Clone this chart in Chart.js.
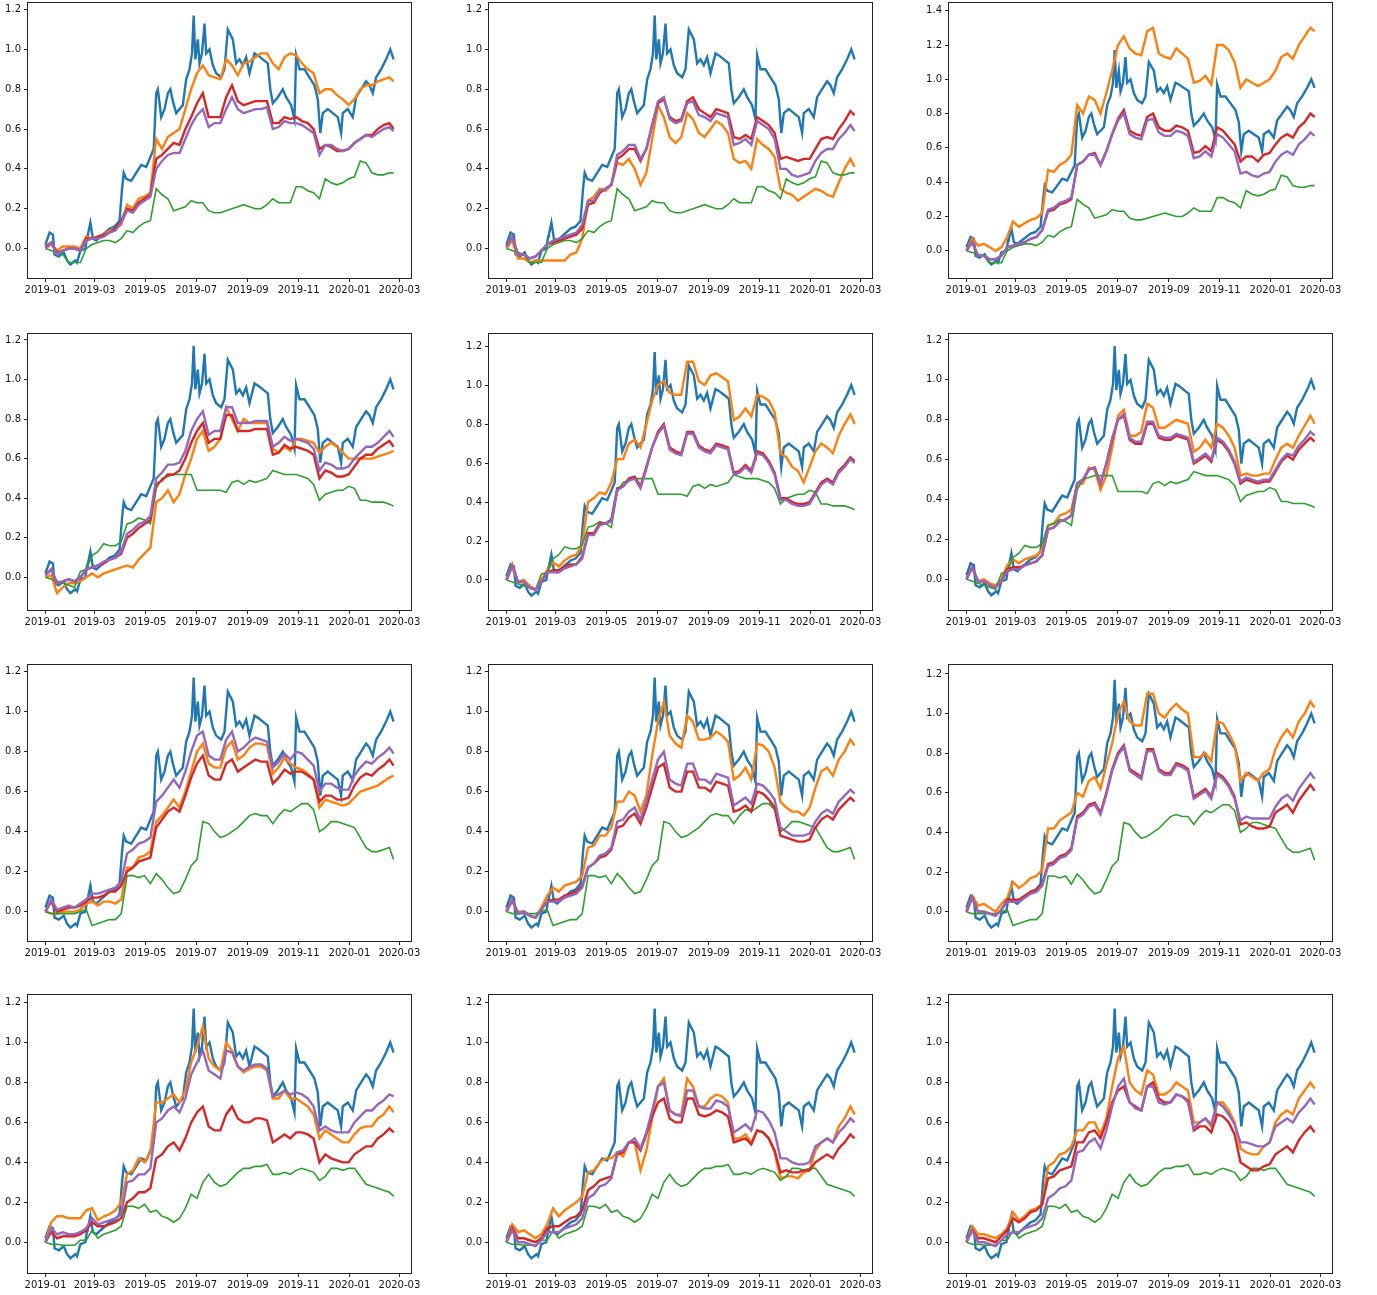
<!DOCTYPE html>
<html><head><meta charset="utf-8">
<script src="https://cdn.jsdelivr.net/npm/chart.js@4.4.1/dist/chart.umd.min.js"></script>
<style>html,body{margin:0;padding:0;background:#fff;width:1377px;height:1295px;overflow:hidden;position:relative}canvas{position:absolute}</style>
</head><body>
<script>
// days since 2019-01-01
const days=[0,7,14,21,28,35,42,49,56,63,70,77,84,91,98,105,112,119,126,133,140,147,154,161,168,175,182,189,196,203,210,217,224,231,238,245,252,259,266,273,280,287,294,301,308,315,322,329,336,343,350,357,364,371,378,385,392,399,406,413,418];
const xTickValues=[0,59,120,181,243,304,365,425];
const xTickLabels=['2019-01','2019-03','2019-05','2019-07','2019-09','2019-11','2020-01','2020-03'];

// blue series (same in every panel), read at its own dates
const blueDays=[0,5,9,11,16,22,26,30,36,38,42,48,50,51,54,57,61,69,77,83,89,92,94,97,103,109,115,121,127,130,133,135,139,143,147,150,153,157,161,165,169,173,176,178,180,183,185,188,191,193,197,201,205,211,215,219,225,229,233,237,241,245,251,255,261,267,270,273,279,285,289,295,299,301,305,311,317,323,327,330,333,339,345,351,355,357,363,369,373,379,385,389,393,397,403,409,414,418];
const blue=[0.02,0.08,0.07,-0.03,-0.04,-0.02,-0.06,-0.08,-0.06,-0.07,-0.01,0.00,0.06,0.07,0.13,0.05,0.04,0.07,0.10,0.11,0.14,0.30,0.38,0.35,0.34,0.38,0.42,0.41,0.47,0.50,0.78,0.80,0.66,0.70,0.78,0.80,0.74,0.68,0.70,0.72,0.85,0.90,0.98,1.17,0.95,1.05,0.93,0.98,1.13,0.98,1.00,0.92,0.88,0.86,0.90,1.10,1.05,0.93,0.95,0.92,0.96,0.88,0.98,0.97,0.95,0.93,0.80,0.73,0.76,0.80,0.76,0.72,0.65,0.97,0.90,0.90,0.86,0.82,0.75,0.58,0.68,0.70,0.68,0.66,0.58,0.68,0.70,0.66,0.76,0.80,0.84,0.82,0.78,0.86,0.90,0.95,1.00,0.95];

const green1=[0.00,-0.01,-0.02,-0.03,-0.07,-0.07,-0.07,0.00,0.02,0.03,
 0.04,0.04,0.03,0.05,0.09,0.08,0.11,0.13,0.14,0.30,
 0.27,0.25,0.19,0.20,0.21,0.24,0.23,0.23,0.19,0.18,
 0.18,0.19,0.20,0.21,0.22,0.21,0.20,0.20,0.22,0.25,
 0.23,0.23,0.23,0.31,0.31,0.29,0.28,0.25,0.35,0.33,
 0.32,0.33,0.35,0.36,0.44,0.43,0.38,0.37,0.37,0.38,
 0.38];
const green2=[0.00,-0.01,-0.02,-0.03,-0.04,-0.05,0.03,0.04,0.11,0.13,
 0.17,0.16,0.16,0.18,0.27,0.28,0.30,0.29,0.27,0.45,
 0.50,0.51,0.52,0.52,0.52,0.52,0.44,0.44,0.44,0.44,
 0.44,0.43,0.48,0.49,0.47,0.49,0.48,0.49,0.50,0.54,
 0.53,0.52,0.52,0.52,0.51,0.50,0.47,0.39,0.42,0.43,
 0.44,0.44,0.46,0.45,0.39,0.39,0.38,0.38,0.38,0.37,
 0.36];
const green3=[0.00,-0.01,-0.01,-0.01,-0.01,-0.01,0.00,0.01,-0.07,-0.06,
 -0.05,-0.04,-0.04,-0.01,0.18,0.18,0.17,0.18,0.14,0.19,
 0.16,0.12,0.09,0.10,0.16,0.23,0.26,0.45,0.44,0.40,
 0.37,0.38,0.40,0.42,0.45,0.48,0.49,0.48,0.48,0.44,
 0.48,0.51,0.50,0.52,0.54,0.54,0.51,0.40,0.42,0.45,
 0.45,0.44,0.43,0.42,0.37,0.32,0.30,0.30,0.31,0.32,
 0.26];
const green4=[0.00,-0.01,-0.01,-0.015,-0.015,-0.015,0.01,0.01,0.06,0.02,
 0.04,0.05,0.06,0.08,0.18,0.18,0.17,0.19,0.15,0.16,
 0.13,0.12,0.10,0.12,0.17,0.24,0.22,0.30,0.34,0.30,
 0.28,0.29,0.32,0.35,0.37,0.37,0.38,0.38,0.39,0.34,
 0.34,0.35,0.34,0.36,0.37,0.36,0.35,0.31,0.33,0.37,
 0.37,0.36,0.37,0.37,0.33,0.29,0.28,0.27,0.26,0.25,
 0.23];

const orange1=[0.00,0.02,-0.01,0.01,0.01,0.01,0.00,0.06,0.05,0.06,
 0.07,0.09,0.10,0.12,0.22,0.20,0.25,0.26,0.28,0.55,
 0.50,0.56,0.58,0.60,0.70,0.80,0.88,0.92,0.87,0.86,
 0.85,0.95,0.92,0.87,0.93,0.94,0.96,0.98,0.98,0.93,
 0.90,0.96,0.98,0.97,0.93,0.90,0.88,0.78,0.80,0.80,
 0.77,0.75,0.72,0.75,0.80,0.82,0.82,0.84,0.85,0.86,
 0.84];
const red1=[0.01,0.03,-0.02,-0.01,0.00,0.00,-0.01,0.05,0.05,0.06,
 0.07,0.08,0.10,0.14,0.20,0.19,0.23,0.25,0.27,0.45,
 0.47,0.50,0.53,0.52,0.60,0.66,0.73,0.78,0.66,0.66,
 0.66,0.76,0.82,0.74,0.72,0.73,0.74,0.74,0.74,0.63,
 0.63,0.66,0.65,0.66,0.64,0.63,0.60,0.50,0.52,0.51,
 0.49,0.49,0.50,0.53,0.55,0.57,0.57,0.60,0.62,0.63,
 0.60];
const purple1=[0.00,0.03,-0.03,-0.01,0.00,0.00,-0.01,0.04,0.05,0.05,
 0.06,0.08,0.09,0.13,0.19,0.18,0.22,0.24,0.26,0.40,
 0.44,0.47,0.48,0.48,0.55,0.62,0.67,0.70,0.61,0.63,
 0.63,0.70,0.76,0.70,0.68,0.69,0.70,0.70,0.71,0.60,
 0.61,0.64,0.63,0.63,0.62,0.60,0.58,0.47,0.52,0.52,
 0.50,0.49,0.50,0.53,0.55,0.57,0.56,0.58,0.60,0.61,
 0.59];

const orange2=[0.00,0.04,-0.05,-0.05,-0.07,-0.06,-0.06,-0.06,-0.06,-0.06,
 -0.06,-0.03,-0.02,0.05,0.24,0.26,0.30,0.29,0.32,0.43,
 0.42,0.45,0.40,0.32,0.38,0.55,0.72,0.66,0.56,0.53,
 0.56,0.68,0.65,0.58,0.56,0.60,0.64,0.62,0.58,0.45,
 0.43,0.44,0.40,0.55,0.52,0.50,0.46,0.30,0.28,0.27,
 0.24,0.26,0.28,0.30,0.29,0.27,0.26,0.33,0.40,0.45,
 0.41];
const red2=[0.01,0.06,-0.03,-0.03,-0.05,-0.04,-0.01,0.02,0.03,0.04,
 0.05,0.06,0.07,0.10,0.22,0.23,0.28,0.30,0.32,0.45,
 0.47,0.50,0.50,0.44,0.50,0.62,0.73,0.75,0.66,0.64,
 0.65,0.74,0.76,0.70,0.68,0.66,0.70,0.69,0.68,0.56,
 0.55,0.57,0.55,0.66,0.64,0.62,0.58,0.45,0.46,0.45,
 0.44,0.45,0.45,0.50,0.55,0.56,0.55,0.60,0.64,0.69,
 0.67];
const purple2=[0.01,0.06,-0.03,-0.03,-0.05,-0.04,-0.01,0.02,0.04,0.05,
 0.06,0.07,0.08,0.12,0.24,0.24,0.29,0.30,0.32,0.47,
 0.49,0.52,0.52,0.45,0.50,0.62,0.74,0.76,0.65,0.63,
 0.64,0.73,0.74,0.67,0.66,0.64,0.68,0.67,0.66,0.52,
 0.53,0.55,0.52,0.64,0.62,0.60,0.55,0.40,0.40,0.37,
 0.36,0.37,0.38,0.44,0.48,0.50,0.50,0.55,0.58,0.62,
 0.59];

const orange3=[0.00,0.07,0.03,0.04,0.02,0.00,0.02,0.08,0.17,0.14,
 0.16,0.18,0.19,0.22,0.47,0.46,0.50,0.52,0.56,0.85,
 0.80,0.90,0.88,0.80,0.92,1.05,1.20,1.25,1.18,1.15,
 1.14,1.28,1.30,1.15,1.13,1.12,1.18,1.15,1.12,0.98,
 0.99,1.02,0.97,1.20,1.20,1.17,1.10,0.95,1.00,0.98,
 0.96,0.98,1.00,1.05,1.13,1.15,1.12,1.20,1.25,1.30,
 1.28];
const red3=[0.00,0.05,-0.03,-0.03,-0.05,-0.05,-0.03,0.02,0.03,0.04,
 0.05,0.07,0.08,0.12,0.23,0.24,0.27,0.28,0.30,0.50,
 0.52,0.56,0.57,0.50,0.58,0.68,0.77,0.82,0.70,0.68,
 0.67,0.78,0.80,0.72,0.70,0.70,0.73,0.72,0.70,0.57,
 0.58,0.61,0.58,0.72,0.70,0.66,0.62,0.52,0.55,0.55,
 0.52,0.56,0.57,0.62,0.66,0.68,0.66,0.72,0.75,0.80,
 0.78];
const purple3=[0.00,0.05,-0.03,-0.03,-0.05,-0.05,-0.03,0.02,0.03,0.04,
 0.05,0.07,0.08,0.12,0.24,0.25,0.28,0.29,0.31,0.50,
 0.52,0.56,0.56,0.50,0.58,0.68,0.76,0.80,0.68,0.66,
 0.65,0.76,0.77,0.69,0.67,0.67,0.70,0.69,0.67,0.54,
 0.55,0.58,0.55,0.68,0.66,0.62,0.58,0.45,0.46,0.44,
 0.43,0.45,0.46,0.52,0.56,0.58,0.56,0.62,0.65,0.69,
 0.67];

const orange4=[0.00,0.01,-0.08,-0.05,-0.03,-0.03,-0.02,0.00,0.02,0.00,
 0.02,0.03,0.04,0.05,0.06,0.05,0.09,0.12,0.15,0.38,
 0.40,0.44,0.38,0.42,0.52,0.60,0.70,0.74,0.64,0.66,
 0.70,0.86,0.80,0.74,0.80,0.78,0.78,0.78,0.78,0.65,
 0.63,0.66,0.64,0.70,0.70,0.69,0.68,0.63,0.66,0.68,
 0.66,0.63,0.60,0.60,0.60,0.60,0.60,0.61,0.62,0.63,
 0.64];
const red4=[0.01,0.04,-0.03,-0.02,-0.01,-0.02,0.00,0.04,0.05,0.06,
 0.07,0.09,0.10,0.12,0.20,0.22,0.25,0.27,0.29,0.47,
 0.49,0.52,0.52,0.54,0.60,0.68,0.74,0.78,0.68,0.70,
 0.70,0.82,0.82,0.74,0.74,0.74,0.75,0.75,0.75,0.62,
 0.63,0.67,0.65,0.66,0.65,0.64,0.62,0.50,0.54,0.53,
 0.51,0.51,0.52,0.56,0.60,0.62,0.62,0.65,0.67,0.69,
 0.66];
const purple4=[0.01,0.04,-0.03,-0.02,-0.01,-0.02,0.00,0.04,0.05,0.06,
 0.08,0.09,0.10,0.13,0.22,0.24,0.27,0.28,0.31,0.50,
 0.53,0.57,0.57,0.58,0.64,0.74,0.80,0.84,0.72,0.74,
 0.74,0.86,0.86,0.78,0.78,0.78,0.79,0.79,0.79,0.66,
 0.68,0.71,0.69,0.70,0.69,0.68,0.65,0.54,0.58,0.57,
 0.55,0.55,0.56,0.60,0.63,0.66,0.66,0.68,0.71,0.74,
 0.71];

const orange5=[0.00,0.08,-0.01,0.00,-0.03,-0.05,0.00,0.05,0.09,0.07,
 0.10,0.12,0.13,0.18,0.40,0.42,0.45,0.44,0.50,0.62,
 0.62,0.70,0.72,0.68,0.80,0.92,1.00,1.02,0.96,0.95,
 0.95,1.12,1.12,1.02,1.00,1.05,1.06,1.04,1.02,0.82,
 0.84,0.88,0.84,0.95,0.94,0.92,0.86,0.65,0.63,0.58,
 0.56,0.50,0.58,0.66,0.70,0.68,0.65,0.74,0.80,0.85,
 0.80];
const red5=[0.00,0.07,-0.01,-0.01,-0.04,-0.05,-0.01,0.04,0.05,0.05,
 0.07,0.08,0.08,0.12,0.24,0.24,0.29,0.29,0.31,0.47,
 0.48,0.52,0.53,0.48,0.58,0.68,0.76,0.80,0.68,0.66,
 0.65,0.76,0.76,0.69,0.67,0.66,0.70,0.69,0.68,0.55,
 0.56,0.59,0.56,0.66,0.65,0.61,0.55,0.42,0.42,0.40,
 0.39,0.39,0.40,0.45,0.50,0.52,0.50,0.56,0.59,0.63,
 0.61];
const purple5=[0.00,0.07,-0.01,-0.01,-0.04,-0.05,-0.01,0.04,0.04,0.04,
 0.06,0.07,0.08,0.11,0.23,0.23,0.28,0.29,0.30,0.46,
 0.48,0.51,0.52,0.47,0.57,0.68,0.75,0.79,0.67,0.65,
 0.64,0.75,0.75,0.68,0.66,0.65,0.69,0.68,0.67,0.54,
 0.55,0.58,0.55,0.65,0.64,0.60,0.54,0.41,0.41,0.39,
 0.38,0.38,0.39,0.44,0.49,0.51,0.49,0.55,0.58,0.62,
 0.60];

const orange6=[0.00,0.06,-0.01,0.00,-0.02,-0.03,0.00,0.07,0.10,0.08,
 0.10,0.11,0.12,0.15,0.27,0.28,0.32,0.33,0.35,0.48,
 0.48,0.56,0.55,0.45,0.52,0.66,0.82,0.85,0.72,0.72,
 0.74,0.88,0.86,0.76,0.76,0.78,0.80,0.79,0.78,0.64,
 0.66,0.70,0.66,0.78,0.76,0.72,0.66,0.52,0.53,0.52,
 0.52,0.53,0.53,0.60,0.66,0.68,0.66,0.72,0.77,0.82,
 0.78];
const red6=[0.00,0.06,-0.01,-0.01,-0.03,-0.04,-0.01,0.05,0.06,0.06,
 0.07,0.08,0.09,0.12,0.25,0.26,0.29,0.30,0.32,0.48,
 0.50,0.55,0.56,0.48,0.58,0.70,0.80,0.82,0.70,0.68,
 0.68,0.78,0.78,0.71,0.70,0.70,0.72,0.71,0.70,0.58,
 0.60,0.62,0.59,0.70,0.68,0.64,0.58,0.48,0.50,0.49,
 0.48,0.49,0.49,0.54,0.59,0.62,0.60,0.65,0.68,0.71,
 0.69];
const purple6=[0.00,0.06,-0.01,-0.01,-0.03,-0.04,-0.01,0.04,0.05,0.05,
 0.07,0.08,0.09,0.12,0.25,0.26,0.29,0.30,0.32,0.48,
 0.50,0.55,0.56,0.48,0.58,0.71,0.80,0.83,0.71,0.69,
 0.69,0.79,0.79,0.72,0.71,0.71,0.73,0.72,0.71,0.59,
 0.61,0.63,0.60,0.71,0.69,0.65,0.59,0.49,0.51,0.50,
 0.49,0.50,0.50,0.55,0.60,0.63,0.62,0.67,0.70,0.74,
 0.72];

const orange7=[0.00,-0.01,-0.01,0.00,0.00,0.00,0.01,0.04,0.05,0.03,
 0.05,0.05,0.04,0.06,0.22,0.22,0.27,0.28,0.30,0.45,
 0.48,0.52,0.56,0.52,0.60,0.70,0.80,0.84,0.74,0.72,
 0.72,0.82,0.85,0.76,0.78,0.82,0.84,0.84,0.83,0.69,
 0.72,0.77,0.74,0.72,0.71,0.69,0.66,0.52,0.56,0.55,
 0.54,0.53,0.54,0.57,0.60,0.61,0.62,0.63,0.65,0.67,
 0.68];
const red7=[0.00,0.05,0.00,0.01,0.02,0.02,0.03,0.05,0.07,0.07,
 0.08,0.10,0.10,0.13,0.20,0.22,0.25,0.26,0.27,0.42,
 0.46,0.50,0.52,0.50,0.58,0.67,0.74,0.78,0.68,0.66,
 0.66,0.74,0.76,0.70,0.72,0.74,0.76,0.75,0.75,0.64,
 0.67,0.71,0.69,0.70,0.70,0.68,0.66,0.55,0.58,0.58,
 0.56,0.56,0.57,0.63,0.67,0.69,0.68,0.71,0.73,0.76,
 0.73];
const purple7=[0.00,0.06,0.01,0.02,0.03,0.02,0.04,0.06,0.09,0.09,
 0.10,0.11,0.12,0.15,0.29,0.31,0.34,0.35,0.37,0.55,
 0.58,0.62,0.66,0.62,0.70,0.80,0.88,0.90,0.78,0.76,
 0.76,0.86,0.90,0.80,0.82,0.85,0.87,0.86,0.85,0.72,
 0.75,0.79,0.76,0.80,0.79,0.76,0.73,0.60,0.64,0.64,
 0.62,0.61,0.61,0.68,0.72,0.75,0.74,0.77,0.79,0.82,
 0.79];

const orange8=[0.00,0.05,0.00,0.00,-0.02,-0.03,0.02,0.08,0.12,0.10,
 0.13,0.14,0.15,0.18,0.32,0.33,0.38,0.38,0.42,0.55,
 0.55,0.60,0.58,0.50,0.58,0.78,0.95,1.05,0.88,0.84,
 0.82,0.98,0.95,0.86,0.86,0.87,0.90,0.88,0.85,0.66,
 0.68,0.72,0.66,0.84,0.83,0.80,0.72,0.55,0.52,0.50,
 0.50,0.48,0.52,0.62,0.70,0.72,0.68,0.76,0.80,0.86,
 0.83];
const red8=[0.00,0.06,-0.01,0.00,-0.02,-0.03,0.01,0.05,0.06,0.06,
 0.08,0.09,0.10,0.13,0.22,0.24,0.27,0.28,0.31,0.42,
 0.43,0.47,0.49,0.44,0.52,0.62,0.72,0.74,0.62,0.60,
 0.60,0.70,0.70,0.62,0.62,0.60,0.65,0.64,0.63,0.50,
 0.51,0.53,0.50,0.60,0.59,0.56,0.52,0.38,0.37,0.36,
 0.35,0.35,0.36,0.42,0.46,0.48,0.46,0.51,0.54,0.57,
 0.55];
const purple8=[0.00,0.06,-0.01,0.00,-0.02,-0.03,0.01,0.05,0.05,0.05,
 0.07,0.08,0.09,0.12,0.22,0.24,0.28,0.29,0.32,0.45,
 0.46,0.50,0.52,0.46,0.55,0.66,0.76,0.80,0.66,0.64,
 0.63,0.74,0.74,0.66,0.66,0.64,0.69,0.68,0.67,0.53,
 0.55,0.57,0.54,0.64,0.63,0.60,0.56,0.42,0.40,0.38,
 0.38,0.38,0.39,0.45,0.49,0.51,0.49,0.55,0.58,0.61,
 0.59];

const orange9=[0.00,0.08,0.03,0.04,0.02,0.00,0.04,0.07,0.15,0.12,
 0.14,0.17,0.18,0.21,0.42,0.42,0.46,0.48,0.50,0.60,
 0.58,0.66,0.68,0.62,0.74,0.85,1.00,1.06,0.96,0.94,
 0.94,1.10,1.10,1.00,0.98,1.02,1.05,1.02,1.00,0.78,
 0.78,0.80,0.76,0.96,0.95,0.90,0.84,0.66,0.70,0.68,
 0.66,0.70,0.72,0.82,0.88,0.92,0.88,0.96,1.00,1.06,
 1.03];
const red9=[0.00,0.07,0.00,0.00,-0.01,-0.02,0.01,0.06,0.06,0.06,
 0.08,0.10,0.11,0.14,0.24,0.25,0.28,0.29,0.32,0.48,
 0.50,0.54,0.55,0.50,0.60,0.72,0.80,0.84,0.72,0.70,
 0.68,0.82,0.82,0.72,0.70,0.70,0.75,0.74,0.72,0.58,
 0.60,0.62,0.58,0.70,0.68,0.64,0.58,0.44,0.45,0.43,
 0.42,0.42,0.43,0.50,0.52,0.54,0.50,0.56,0.60,0.64,
 0.61];
const purple9=[0.00,0.07,0.00,0.00,-0.01,-0.02,0.01,0.05,0.05,0.05,
 0.07,0.09,0.10,0.13,0.23,0.24,0.27,0.28,0.31,0.47,
 0.49,0.53,0.54,0.49,0.59,0.71,0.79,0.83,0.71,0.69,
 0.67,0.81,0.81,0.71,0.69,0.69,0.74,0.73,0.71,0.57,
 0.59,0.61,0.57,0.69,0.67,0.63,0.57,0.46,0.48,0.47,
 0.47,0.47,0.47,0.53,0.57,0.59,0.56,0.62,0.66,0.70,
 0.67];

const orange10=[0.00,0.10,0.13,0.13,0.12,0.12,0.12,0.16,0.17,0.11,
 0.13,0.14,0.16,0.20,0.34,0.36,0.42,0.40,0.45,0.70,
 0.70,0.72,0.74,0.70,0.76,0.90,0.98,1.08,0.92,0.88,
 0.86,1.00,0.96,0.88,0.85,0.87,0.88,0.88,0.86,0.72,
 0.72,0.76,0.72,0.72,0.70,0.68,0.64,0.52,0.56,0.54,
 0.52,0.50,0.50,0.54,0.57,0.58,0.58,0.62,0.64,0.68,
 0.65];
const red10=[0.00,0.05,0.02,0.03,0.03,0.03,0.04,0.06,0.10,0.08,
 0.08,0.09,0.10,0.12,0.20,0.22,0.25,0.25,0.27,0.42,
 0.44,0.48,0.50,0.46,0.52,0.60,0.65,0.68,0.58,0.56,
 0.56,0.64,0.68,0.62,0.60,0.60,0.62,0.62,0.61,0.50,
 0.52,0.54,0.52,0.55,0.55,0.54,0.52,0.40,0.44,0.42,
 0.41,0.40,0.40,0.44,0.46,0.48,0.48,0.52,0.54,0.57,
 0.55];
const purple10=[0.00,0.07,0.04,0.05,0.04,0.04,0.05,0.07,0.12,0.09,
 0.10,0.11,0.12,0.14,0.30,0.31,0.34,0.34,0.37,0.60,
 0.62,0.66,0.68,0.65,0.72,0.84,0.90,0.96,0.86,0.84,
 0.82,0.96,0.95,0.88,0.86,0.88,0.89,0.89,0.87,0.73,
 0.74,0.76,0.74,0.75,0.74,0.72,0.68,0.56,0.58,0.56,
 0.55,0.55,0.55,0.60,0.63,0.66,0.66,0.69,0.71,0.74,
 0.73];

const orange11=[0.00,0.09,0.05,0.06,0.04,0.02,0.04,0.09,0.17,0.13,
 0.16,0.18,0.20,0.23,0.35,0.36,0.40,0.42,0.42,0.45,
 0.43,0.50,0.50,0.36,0.46,0.62,0.78,0.82,0.66,0.64,
 0.64,0.82,0.78,0.68,0.68,0.72,0.74,0.73,0.70,0.52,
 0.52,0.54,0.50,0.56,0.55,0.52,0.45,0.32,0.33,0.33,
 0.32,0.35,0.36,0.46,0.50,0.52,0.50,0.58,0.62,0.68,
 0.64];
const red11=[0.00,0.07,0.02,0.02,0.01,0.00,0.02,0.07,0.08,0.08,
 0.10,0.12,0.13,0.16,0.26,0.28,0.31,0.32,0.33,0.44,
 0.45,0.50,0.50,0.46,0.54,0.63,0.70,0.72,0.62,0.60,
 0.60,0.72,0.72,0.64,0.63,0.64,0.66,0.65,0.63,0.50,
 0.51,0.52,0.49,0.56,0.55,0.52,0.46,0.35,0.36,0.35,
 0.35,0.36,0.36,0.40,0.42,0.44,0.42,0.47,0.50,0.54,
 0.52];
const purple11=[0.00,0.06,0.00,0.00,-0.01,-0.02,0.01,0.05,0.05,0.05,
 0.07,0.08,0.09,0.12,0.22,0.24,0.28,0.29,0.32,0.45,
 0.46,0.50,0.52,0.47,0.55,0.66,0.78,0.80,0.66,0.64,
 0.63,0.76,0.76,0.68,0.67,0.67,0.71,0.70,0.68,0.55,
 0.57,0.59,0.56,0.66,0.65,0.61,0.55,0.42,0.42,0.40,
 0.39,0.39,0.40,0.48,0.50,0.52,0.50,0.55,0.58,0.62,
 0.60];

const orange12=[0.00,0.08,0.04,0.04,0.03,0.02,0.04,0.07,0.15,0.11,
 0.13,0.16,0.17,0.19,0.38,0.40,0.44,0.45,0.48,0.56,
 0.56,0.60,0.60,0.54,0.62,0.78,0.92,0.98,0.80,0.76,
 0.74,0.86,0.84,0.74,0.74,0.76,0.80,0.78,0.76,0.60,
 0.60,0.62,0.58,0.70,0.70,0.66,0.60,0.47,0.45,0.44,
 0.44,0.48,0.50,0.60,0.64,0.66,0.64,0.72,0.76,0.80,
 0.77];
const red12=[0.00,0.06,0.02,0.02,0.01,0.00,0.03,0.06,0.12,0.10,
 0.12,0.15,0.16,0.19,0.32,0.33,0.36,0.37,0.38,0.50,
 0.50,0.55,0.56,0.52,0.60,0.70,0.76,0.78,0.70,0.68,
 0.66,0.78,0.80,0.72,0.70,0.70,0.74,0.73,0.71,0.56,
 0.58,0.58,0.55,0.64,0.63,0.60,0.54,0.40,0.38,0.36,
 0.36,0.38,0.39,0.44,0.46,0.48,0.45,0.51,0.55,0.58,
 0.55];
const purple12=[0.00,0.06,0.00,0.00,-0.01,-0.02,0.01,0.04,0.05,0.05,
 0.07,0.08,0.09,0.12,0.22,0.24,0.27,0.28,0.31,0.45,
 0.46,0.50,0.52,0.47,0.56,0.68,0.78,0.82,0.70,0.67,
 0.66,0.78,0.78,0.70,0.69,0.70,0.74,0.73,0.70,0.57,
 0.60,0.62,0.59,0.70,0.68,0.64,0.59,0.50,0.50,0.49,
 0.48,0.48,0.50,0.58,0.60,0.62,0.60,0.65,0.68,0.72,
 0.69];

const oranges=[orange1,orange2,orange3,orange4,orange5,orange6,orange7,orange8,orange9,orange10,orange11,orange12];
const reds=[red1,red2,red3,red4,red5,red6,red7,red8,red9,red10,red11,red12];
const purples=[purple1,purple2,purple3,purple4,purple5,purple6,purple7,purple8,purple9,purple10,purple11,purple12];
const greens=[green1,green2,green3,green4];

const yRanges=[[-0.148,1.233],[-0.148,1.233],[-0.159,1.445],
 [-0.165,1.230],[-0.154,1.262],[-0.154,1.230],
 [-0.147,1.233],[-0.147,1.233],[-0.148,1.245],
 [-0.154,1.238],[-0.154,1.238],[-0.154,1.238]];

const colLeft=[28,489,949], rowTop=[3,334,665,995], rowH=[275,276,276,278], plotW=383;
const CW=460, CH=318, YW=28, XH=22, PT=12;
const C={blue:'#1f77b4',orange:'#ff7f0e',green:'#2ca02c',red:'#d62728',purple:'#9467bd'};

const frame={id:'frame',afterDraw(ch){const a=ch.chartArea,ctx=ch.ctx;ctx.save();ctx.strokeStyle='#222';ctx.lineWidth=1;
 ctx.strokeRect(Math.round(a.left)-0.5,Math.round(a.top)-0.5,Math.round(a.right-a.left)+1,Math.round(a.bottom-a.top)+1);ctx.restore();}};

function pts(xs,arr){return arr.map((v,k)=>({x:xs[k],y:v}));}
function ds(xs,arr,color,w){return {data:pts(xs,arr),borderColor:color,backgroundColor:color,borderWidth:w,pointRadius:0,tension:0,fill:false,borderJoinStyle:'miter'};}

for(let i=0;i<12;i++){
  const r=Math.floor(i/3), c=i%3;
  const cv=document.createElement('canvas');
  cv.width=CW; cv.height=CH;
  cv.style.left=(colLeft[c]-YW)+'px'; cv.style.top=(rowTop[r]-PT)+'px';
  cv.style.width=CW+'px'; cv.style.height=CH+'px';
  document.body.appendChild(cv);
  const yr=yRanges[i];
  const yTicks=[];for(let t=0;t<=Math.floor(yr[1]*5+1e-9);t++)yTicks.push(+(t*0.2).toFixed(1));
  const tickFont={family:'"DejaVu Sans", sans-serif',size:10};
  new Chart(cv,{type:'line',
    data:{datasets:[ds(days,purples[i],C.purple,2.4),ds(days,reds[i],C.red,2.4),ds(days,greens[r],C.green,1.6),ds(days,oranges[i],C.orange,2.4),ds(blueDays,blue,C.blue,2.4)]},
    options:{responsive:false,animation:false,devicePixelRatio:1,events:[],
      layout:{padding:{top:PT,left:0,right:CW-YW-plotW,bottom:CH-PT-rowH[r]-XH}},
      plugins:{legend:{display:false},tooltip:{enabled:false}},
      scales:{
        x:{type:'linear',min:-20.9,max:438.9,
          afterFit(s){s.height=XH;},
          afterBuildTicks(s){s.ticks=xTickValues.map(v=>({value:v}));},
          ticks:{autoSkip:false,maxRotation:0,minRotation:0,padding:2,color:'#111',font:tickFont,
            callback:(v)=>{const k=xTickValues.indexOf(v);return k>=0?xTickLabels[k]:'';}},
          grid:{display:true,drawOnChartArea:false,drawTicks:true,tickLength:4,color:'#222',lineWidth:1},
          border:{display:false}},
        y:{type:'linear',min:yr[0],max:yr[1],
          afterFit(s){s.width=YW;},
          afterBuildTicks(s){s.ticks=yTicks.map(v=>({value:v}));},
          ticks:{padding:3,color:'#111',font:tickFont,callback:(v)=>Number(v).toFixed(1)},
          grid:{display:true,drawOnChartArea:false,drawTicks:true,tickLength:4,color:'#222',lineWidth:1},
          border:{display:false}}
      }},
    plugins:[frame]});
}
</script>
</body></html>
